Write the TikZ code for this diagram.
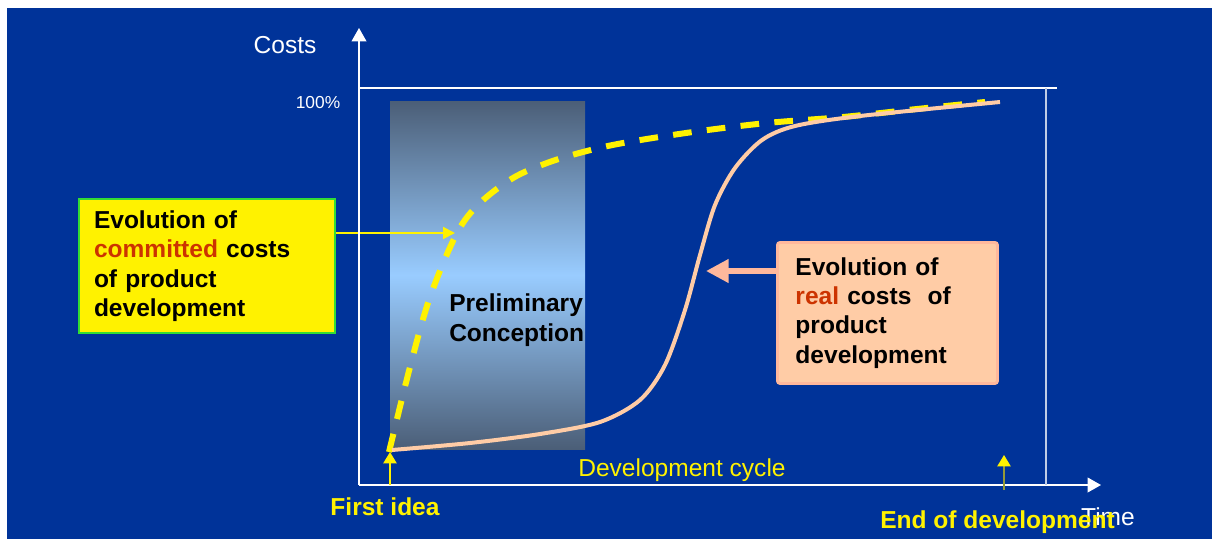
\documentclass[tikz,border=0pt]{standalone}
\usepackage{fontspec}
\setmainfont{Liberation Sans}
\usetikzlibrary{arrows.meta,math}
\definecolor{slide}{HTML}{003399}
\definecolor{peach}{HTML}{FFCCA6}
\definecolor{salmon}{HTML}{FFB89C}
\definecolor{redword}{HTML}{CC3300}
\definecolor{slate}{HTML}{4B5E77}
\definecolor{sky}{HTML}{99CCFF}
\definecolor{boxgreen}{HTML}{33DD33}
\definecolor{olivestem}{HTML}{949A3A}

\begin{document}
\begin{tikzpicture}[x=0.75pt,y=-0.75pt,
    txt/.style={font=\fontsize{18.4}{22}\selectfont},
    boldtxt/.style={font=\fontsize{18.4}{22}\selectfont\bfseries},
    axisline/.style={white,line width=1.2pt,-{Triangle[length=10pt,width=11pt]}},
    upmark/.style={line width=1pt,-{Triangle[length=8.5pt,width=10pt,fill=yellow,color=yellow]}}]
      \tikzmath{\ox = 359; \oy = 485; \ymax = 88; \xmax = 1046;}
      \useasboundingbox (0,0) rectangle (1212,539);
      \fill[white] (0,0) rectangle (1212,539);
      \fill[slide] (7,8) rectangle (1212,539);
      \shade[top color=slate, bottom color=slate, middle color=sky] (390,101) rectangle (585,449);
      \node[boldtxt, align=left, anchor=west, inner sep=0, font=\fontsize{18.4}{23}\selectfont\bfseries] (concept) at (449,320) {Preliminary\\Conception};
      \draw[yellow, line width=4.5pt, dash pattern=on 14pt off 11.5pt] plot[smooth, tension=0.55] coordinates {(389,452) (410,367) (430,297) (457,233) (480,203) (513,178) (547,163) (583,152) (623,143) (693,132) (767,123) (843,117) (917,109) (985,102)};
      \draw[peach, line width=3pt] plot[smooth, tension=0.5] coordinates {(392,450) (470,443) (540,434) (600,422) (640,400) (665,365) (685,310) (700,255) (715,205) (735,168) (762,140) (795,126) (860,116) (1000,102)};
      \node[boldtxt, fill=yellow, draw=boxgreen, line width=1.5pt, anchor=north west, minimum width=192pt, minimum height=100.5pt, text width=169.5pt, inner xsep=11.25pt, align=left] (lbox) at (78,198) {Evolution of\\\textcolor{redword}{committed} costs\\of product\\development};
      \node[boldtxt, fill=peach, draw=salmon, line width=2.2pt, rounded corners=2pt, anchor=north west, minimum width=165pt, minimum height=105.75pt, text width=138pt, inner xsep=13.5pt, align=left] (rbox) at (776,241) {Evolution of\\\textcolor{redword}{real} costs\ \ of\\product\\development};
      \coordinate (cmt) at (455,233);
      \coordinate (rl) at (706,271);
      \draw[yellow, line width=1.5pt, -{Triangle[length=9pt,width=9pt]}] (cmt -| lbox.east) -- (cmt);
      \draw[salmon, line width=4pt, -{Triangle[length=17pt,width=17pt]}] (rl -| rbox.west) -- (rl);
      \coordinate (O) at (\ox,\oy);
      \coordinate (ytip) at (\ox,28);
      \coordinate (xtip) at (1101,\oy);
      \draw[axisline] (O) -- (ytip);
      \draw[axisline] (O) -- (xtip);
      \draw[white, line width=1.1pt] (\ox,\ymax) -- (1057,\ymax);
      \draw[white!75!slide, line width=0.8pt] (\xmax,\ymax) -- (\xmax,\oy);
      \node[txt, white] (costs) at (285,45) {Costs};
      \node[white, font=\fontsize{13}{15}\selectfont] (full) at (318,103) {100\%};
      \node[txt, white] (time) at (1108,517) {Time};
      \node[txt, yellow] (cycle) at (682,470) {Development cycle};
      \coordinate (ideatip) at (390,452);
      \coordinate (endtip) at (1004,455);
      \draw[upmark, yellow] (ideatip |- O) -- (ideatip);
      \draw[upmark, olivestem] (1004,490) -- (endtip);
      \node[boldtxt, yellow] (first) at (385,507) {First idea};
      \node[boldtxt, yellow, anchor=west, inner sep=0] (finish) at (880,522) {End of development};
    \end{tikzpicture}
\end{document}
